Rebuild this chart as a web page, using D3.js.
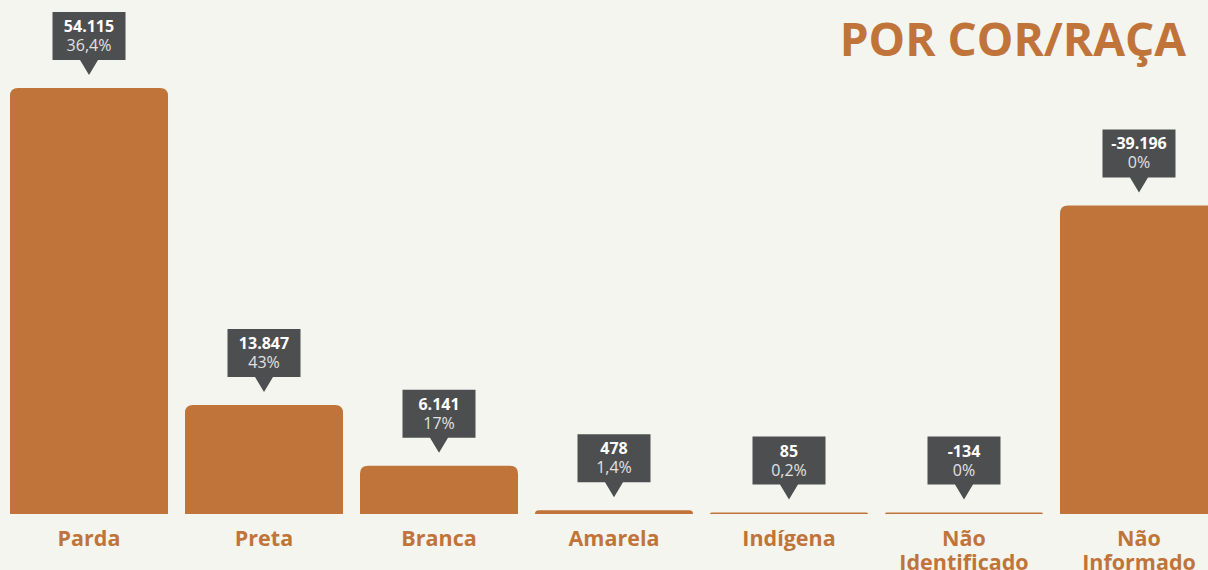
<!DOCTYPE html>
<html>
<head>
<meta charset="utf-8">
<script src="https://cdn.jsdelivr.net/npm/d3@7"></script>
<style>
  html, body { margin: 0; padding: 0; background: #f5f5f0; }
  svg { display: block; font-family: "Open Sans", sans-serif; }
</style>
</head>
<body>
<svg id="chart"></svg>
<script>
const categories = ["Parda", "Preta", "Branca", "Amarela", "Indígena", "Não\nIdentificado", "Não\nInformado"];
const values = [54115, 13847, 6141, 478, 85, -134, -39196];
const percents = ["36,4%", "43%", "17%", "1,4%", "0,2%", "0%", "0%"];

const width = 1208;
const height = 570;
const baseline = 514;
const orange = "#c0743a";

const ptBR = d3.formatLocale({ decimal: ",", thousands: ".", grouping: [3], currency: ["R$", ""] });
const fmt = ptBR.format(",d");

const data = categories.map((c, i) => ({ cat: c, value: values[i], pct: percents[i] }));

const svg = d3.select("#chart").attr("width", width).attr("height", height);

svg.append("rect").attr("width", width).attr("height", height).attr("fill", "#f5f5f0");

// scales
const x = d3.scaleBand()
  .domain(categories)
  .range([10, 1218])
  .paddingInner(0.097)
  .paddingOuter(0);

const y = d3.scaleLinear()
  .domain([0, d3.max(values, (d) => Math.abs(d))])
  .range([baseline, 88]);

function barTop(d) {
  const h = Math.max(baseline - y(Math.abs(d.value)), 1.5);
  return baseline - h;
}

// bars with rounded top corners
function barPath(d) {
  const x0 = x(d.cat), w = x.bandwidth();
  const t = barTop(d);
  const h = baseline - t;
  const r = Math.min(8, h, w / 2);
  return "M" + x0 + "," + baseline +
    "V" + (t + r) +
    "Q" + x0 + "," + t + " " + (x0 + r) + "," + t +
    "H" + (x0 + w - r) +
    "Q" + (x0 + w) + "," + t + " " + (x0 + w) + "," + (t + r) +
    "V" + baseline + "Z";
}

svg.append("g")
  .selectAll("path")
  .data(data)
  .enter()
  .append("path")
  .attr("d", barPath)
  .attr("fill", orange);

// labels above bars
const boxW = 73, boxH = 48, tipH = 15, tipHalf = 9, gap = 13;

const lab = svg.append("g")
  .selectAll("g")
  .data(data)
  .enter()
  .append("g")
  .attr("transform", (d) => {
    const cx = x(d.cat) + x.bandwidth() / 2;
    const tipY = barTop(d) - gap;
    return "translate(" + cx + "," + tipY + ")";
  });

lab.append("path")
  .attr("d", "M" + (-boxW / 2) + "," + (-tipH - boxH) +
    "H" + (boxW / 2) + "V" + (-tipH) +
    "H" + tipHalf + "L0,0L" + (-tipHalf) + "," + (-tipH) +
    "H" + (-boxW / 2) + "Z")
  .attr("fill", "#4d4e50");

lab.append("text")
  .attr("text-anchor", "middle")
  .attr("y", -tipH - boxH + 20)
  .attr("fill", "#ffffff")
  .attr("font-size", 16)
  .attr("font-weight", "bold")
  .text((d) => fmt(d.value).replace("−", "-"));

lab.append("text")
  .attr("text-anchor", "middle")
  .attr("y", -tipH - boxH + 39)
  .attr("fill", "#e2e2e2")
  .attr("font-size", 16)
  .text((d) => d.pct);

// category axis labels
const cl = svg.append("g")
  .selectAll("text")
  .data(data)
  .enter()
  .append("text")
  .attr("text-anchor", "middle")
  .attr("fill", orange)
  .attr("font-size", 21.5)
  .attr("font-weight", "bold")
  .attr("x", (d) => x(d.cat) + x.bandwidth() / 2)
  .attr("y", 546);

cl.selectAll("tspan")
  .data((d) => d.cat.split("\n").map((s) => ({ s: s, cx: x(d.cat) + x.bandwidth() / 2 })))
  .enter()
  .append("tspan")
  .attr("x", (d) => d.cx)
  .attr("dy", (d, i) => (i === 0 ? 0 : 24))
  .text((d) => d.s);

// title
svg.append("text")
  .attr("x", 1186)
  .attr("y", 56)
  .attr("text-anchor", "end")
  .attr("fill", orange)
  .attr("font-size", 46)
  .attr("font-weight", "bold")
  .text("POR COR/RAÇA");
</script>
</body>
</html>
